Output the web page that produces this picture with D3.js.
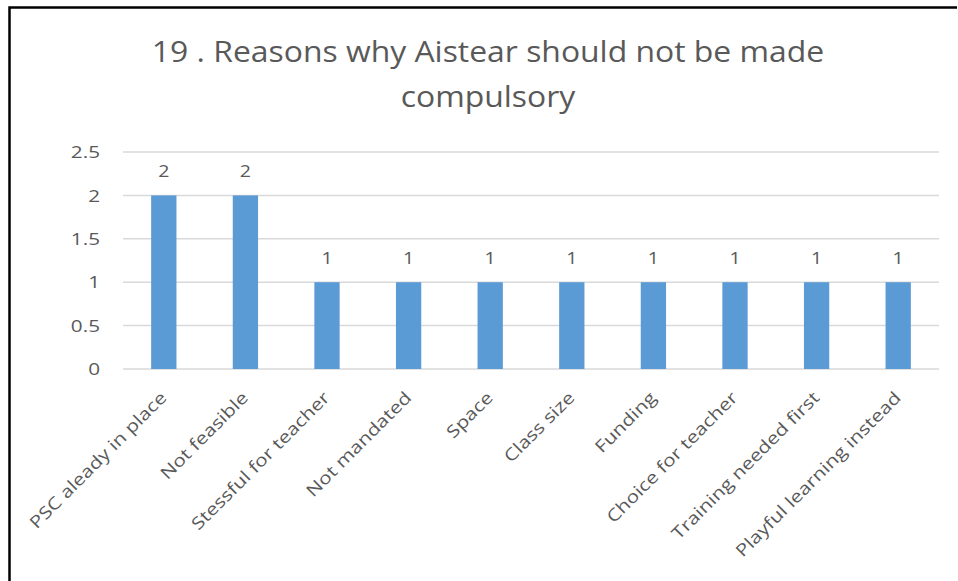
<!DOCTYPE html>
<html>
<head>
<meta charset="utf-8">
<script src="https://cdn.jsdelivr.net/npm/d3@7"></script>
<style>
  html, body { margin: 0; padding: 0; background: #fff; }
  svg { display: block; }
  text { font-family: "Open Sans", "Liberation Sans", sans-serif; fill: #595959; }
</style>
</head>
<body>
<svg id="chart" width="958" height="581"></svg>
<script>
// Survey question 19: reasons given against making Aistear compulsory
const categories = [
  "PSC aleady in place",
  "Not feasible",
  "Stessful for teacher",
  "Not mandated",
  "Space",
  "Class size",
  "Funding",
  "Choice for teacher",
  "Training needed first",
  "Playful learning instead"
];
const counts = [2, 2, 1, 1, 1, 1, 1, 1, 1, 1];
const yTicks = [0, 0.5, 1, 1.5, 2, 2.5];
const titleLines = ["19 . Reasons why Aistear should not be made", "compulsory"];

const W = 958, H = 581;
const margin = { left: 123, right: 19, top: 152, bottom: 212 };

const svg = d3.select("#chart");

// frame edges (top and left)
svg.append("path")
  .attr("d", `M9.5,${H} L9.5,7.5 L${W - 1},7.5`)
  .attr("fill", "none")
  .attr("stroke", "#000")
  .attr("stroke-width", 2.5);

// title, glyphs widened a little along the baseline
svg.append("g").selectAll("text")
  .data(titleLines)
  .join("text")
  .attr("transform", (d, i) => `translate(488,${62 + i * 45}) scale(1.1,1)`)
  .attr("text-anchor", "middle")
  .style("font-size", "29px")
  .text(d => d);

const x = d3.scaleBand()
  .domain(categories)
  .range([margin.left, W - margin.right])
  .paddingInner(0.69)
  .paddingOuter(0.345);

const y = d3.scaleLinear()
  .domain([0, 2.5])
  .range([H - margin.bottom, margin.top]);

// horizontal gridlines
svg.append("g").selectAll("line")
  .data(yTicks)
  .join("line")
  .attr("x1", margin.left)
  .attr("x2", W - margin.right)
  .attr("y1", d => y(d))
  .attr("y2", d => y(d))
  .attr("stroke", "#d9d9d9")
  .attr("stroke-width", 1.5);

// y axis labels
const fmt = d3.format("~g");
svg.append("g").selectAll("text")
  .data(yTicks)
  .join("text")
  .attr("transform", d => `translate(100,${y(d)}) scale(1.22,1)`)
  .attr("text-anchor", "end")
  .attr("dy", "0.36em")
  .style("font-size", "17px")
  .text(d => fmt(d));

// bars
svg.append("g").selectAll("rect")
  .data(categories)
  .join("rect")
  .attr("x", d => x(d))
  .attr("width", x.bandwidth())
  .attr("y", (d, i) => y(counts[i]))
  .attr("height", (d, i) => y(0) - y(counts[i]))
  .attr("fill", "#5b9bd5");

// value labels
svg.append("g").selectAll("text")
  .data(categories)
  .join("text")
  .attr("transform", (d, i) => `translate(${x(d) + x.bandwidth() / 2},${y(counts[i]) - 18}) scale(1.15,1)`)
  .attr("text-anchor", "middle")
  .style("font-size", "17px")
  .text((d, i) => counts[i]);

// x axis labels, rotated 45 degrees
const xAxis = d3.axisBottom(x).tickSize(0).tickPadding(0);
const gx = svg.append("g")
  .attr("transform", `translate(0,${y(0)})`)
  .call(xAxis);
gx.select(".domain").remove();
gx.selectAll("text")
  .style("font-size", "17px")
  .style("font-family", "'Open Sans', sans-serif")
  .attr("fill", "#595959")
  .attr("text-anchor", "end")
  .attr("y", 0)
  .attr("dy", "0.9em")
  .attr("transform", "translate(-7,19) rotate(-45) scale(1.22,1)");
</script>
</body>
</html>
